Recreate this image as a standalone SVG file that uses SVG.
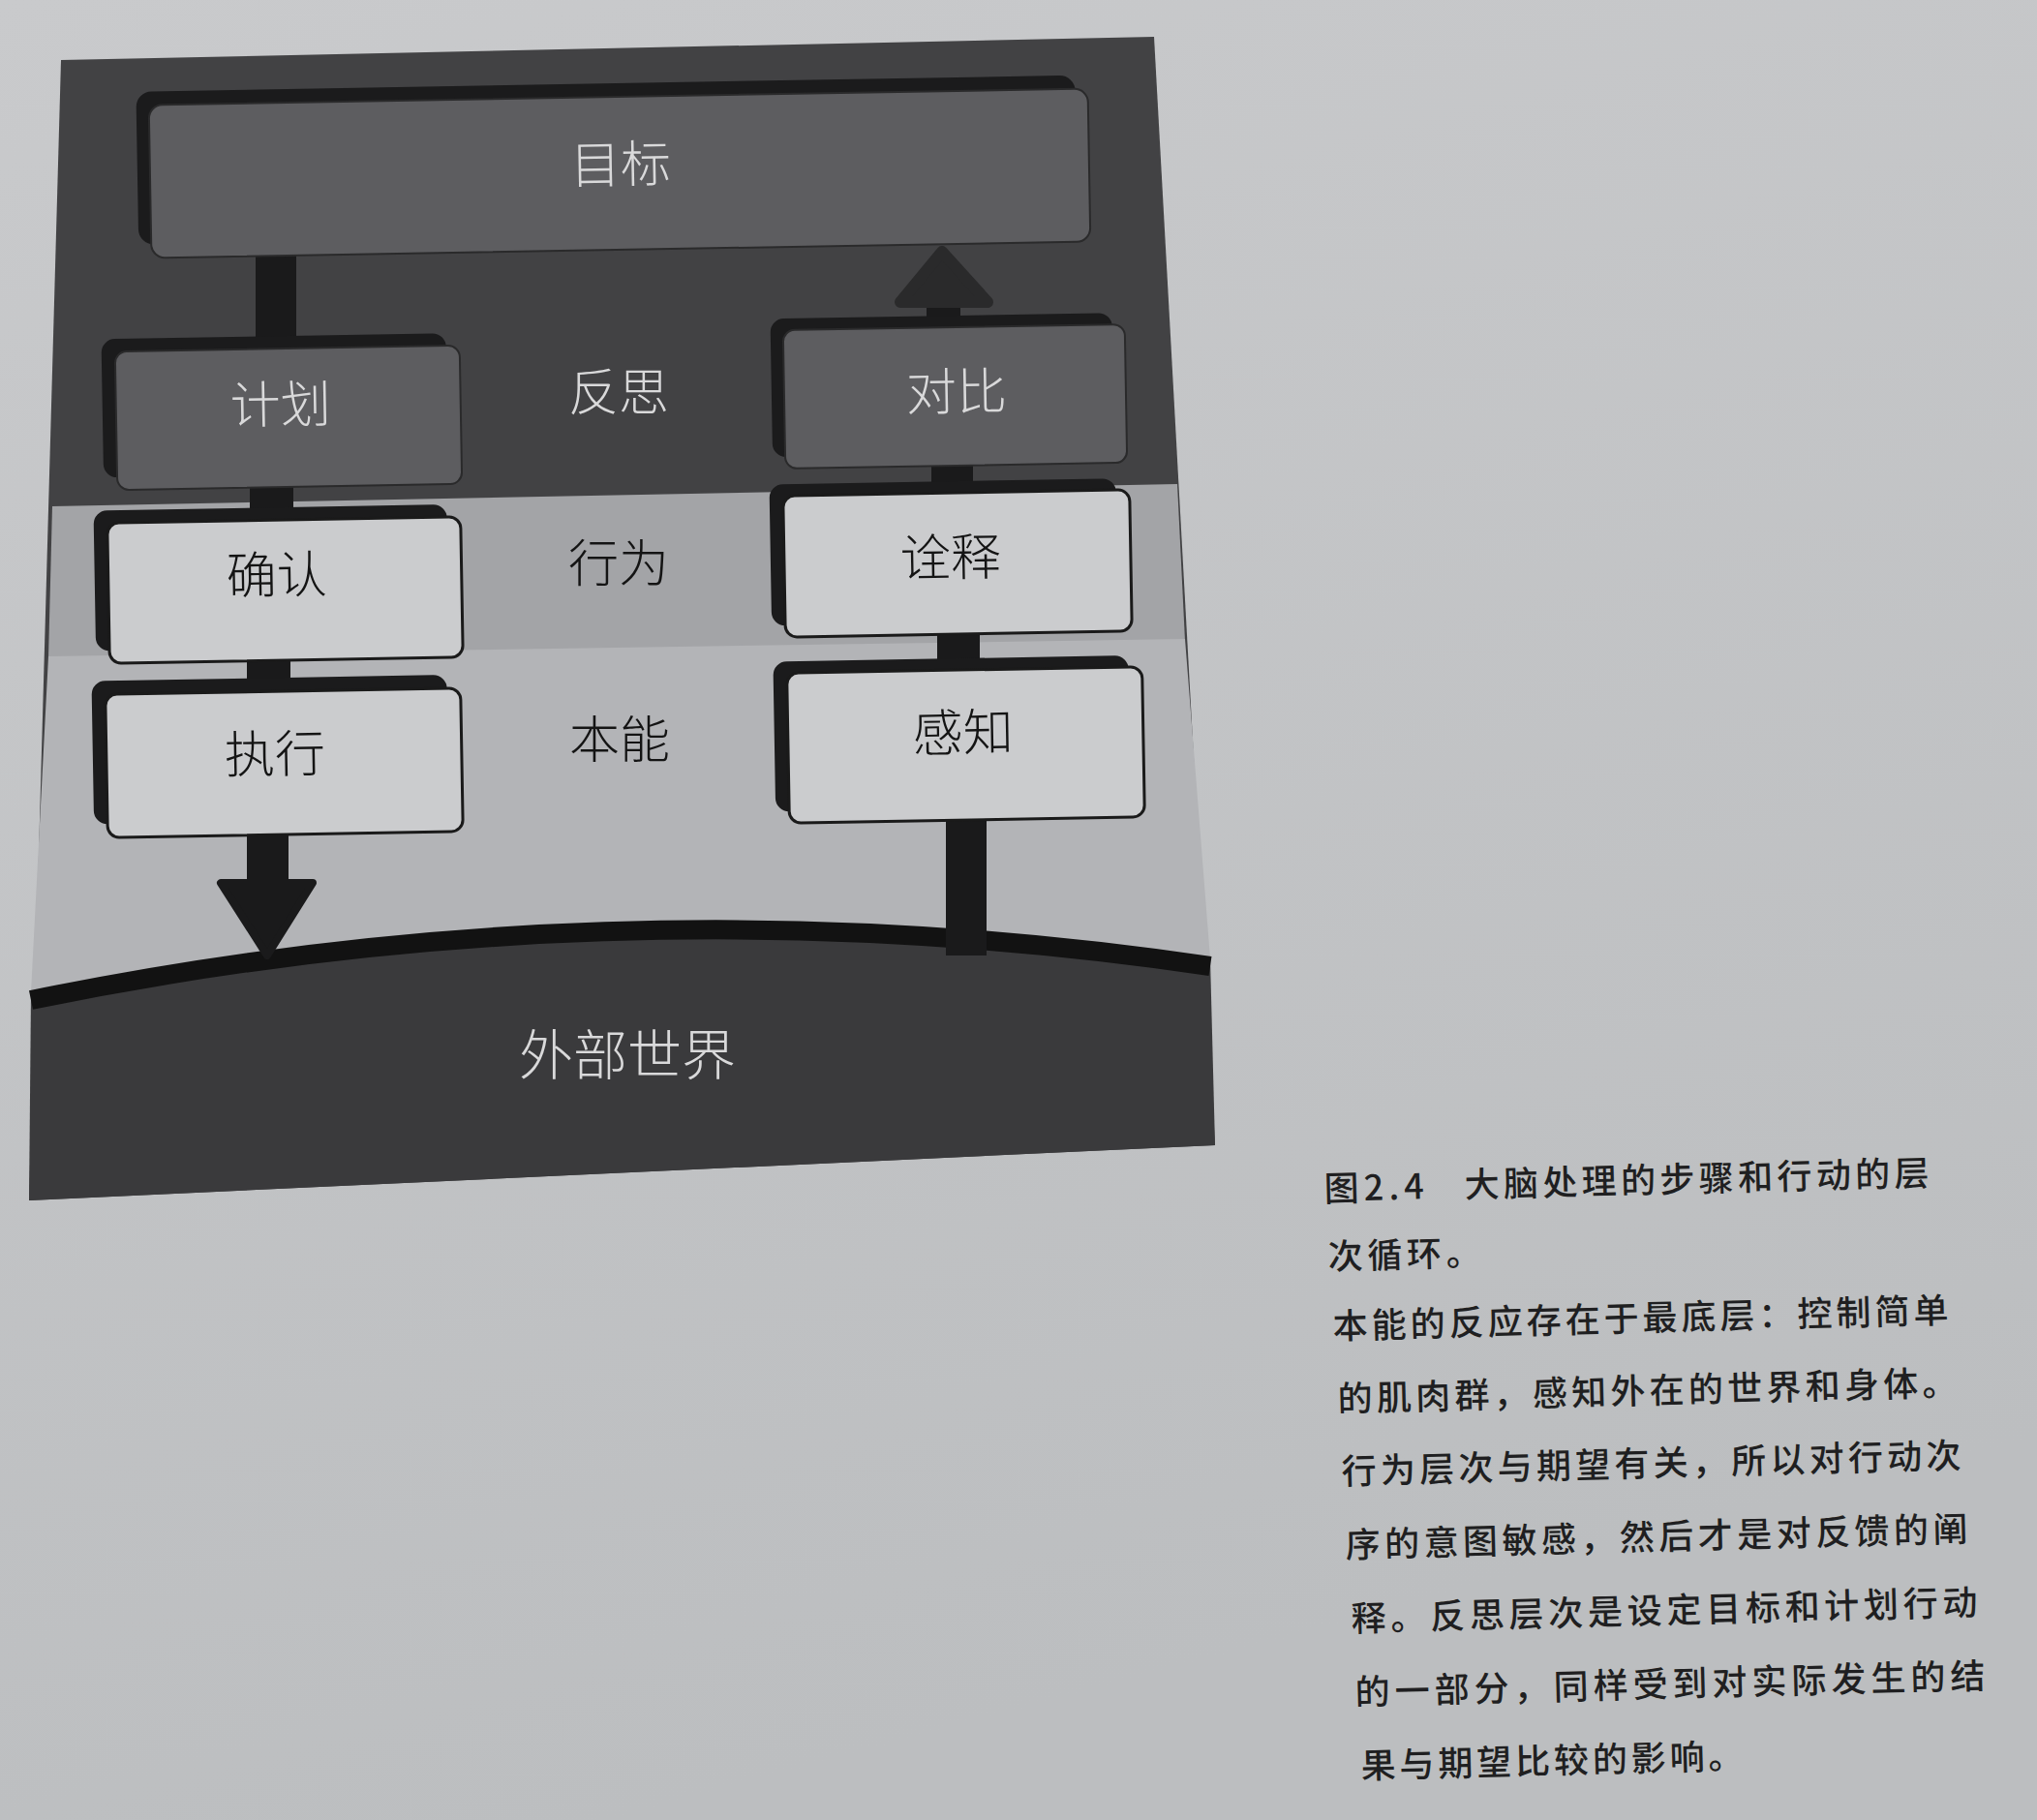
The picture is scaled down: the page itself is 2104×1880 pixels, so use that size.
<svg xmlns="http://www.w3.org/2000/svg" width="2104" height="1880" viewBox="0 0 2104 1880">
<defs>
<linearGradient id="page" x1="0" y1="0" x2="0.3" y2="1">
<stop offset="0" stop-color="#c9cacc"/>
<stop offset="1" stop-color="#bcbec0"/>
</linearGradient>
<style>
.lbl{font-family:"Noto Sans CJK SC","Noto Sans",sans-serif;font-size:52px;text-anchor:middle;dominant-baseline:central;font-weight:300}
.lt{fill:#d9d9da}
.dk{fill:#141414}
.shadow{fill:#1b1b1c}
.dbox{fill:#5d5d60;stroke:#2a2a2b;stroke-width:2}
.lbox{fill:#cbccce;stroke:#1a1a1a;stroke-width:3}
.bar{fill:#1a1a1b}
.cap{font-family:"Noto Sans CJK SC","Noto Sans",sans-serif;font-size:36px;font-weight:500;fill:#1f1f21}
</style>
</defs>
<rect width="2104" height="1880" fill="url(#page)"/>
<g id="panel">
<polygon points="63,62 1192,38 1255,1183 30,1240" fill="#424244"/>
<polygon points="54,523 1216,500 1224,662 50,680" fill="#a3a4a7"/>
<path d="M50,678 L1224,660 L1250,990 Q640,900 32,1025 Z" fill="#b3b4b7"/>
<path d="M32,1025 Q640,900 1250,990 L1255,1183 L30,1240 Z" fill="#3a3a3c"/>
<path d="M32,1033 Q640,908 1250,998" fill="none" stroke="#121212" stroke-width="20"/>
</g>
<g id="connectors">
<rect class="bar" x="264" y="258" width="42" height="106"/>
<rect class="bar" x="258" y="500" width="45" height="40"/>
<rect class="bar" x="255" y="680" width="45" height="38"/>
<rect class="bar" x="255" y="858" width="43" height="58"/>
<polygon points="228,912 323,912 276,987" fill="#1a1a1b" stroke="#1a1a1b" stroke-width="8" stroke-linejoin="round"/>
<rect class="bar" x="957" y="300" width="35" height="32"/>
<polygon points="973,260 1020,312 930,312" fill="#2a2a2b" stroke="#2a2a2b" stroke-width="12" stroke-linejoin="round"/>
<rect class="bar" x="962" y="478" width="43" height="36"/>
<rect class="bar" x="968" y="652" width="44" height="44"/>
<rect class="bar" x="977" y="842" width="42" height="145"/>
</g>
<g id="goal" transform="rotate(-1 640 179)">
<rect class="shadow" x="142" y="86" width="970" height="158" rx="16"/>
<rect class="dbox" x="155" y="100" width="970" height="158" rx="14"/>
<text class="lbl lt" x="641" y="166">目标</text>
</g>
<g id="plan" transform="rotate(-1 298 432)">
<rect class="shadow" x="106" y="347" width="356" height="143" rx="14"/>
<rect class="dbox" x="120" y="360" width="356" height="143" rx="12"/>
<text class="lbl lt" x="290" y="414">计划</text>
</g>
<g id="reflective-label"><text class="lbl lt" x="639" y="401">反思</text></g>
<g id="compare" transform="rotate(-1 986 410)">
<rect class="shadow" x="797" y="326" width="353" height="143" rx="14"/>
<rect class="dbox" x="810" y="338" width="353" height="143" rx="12"/>
<text class="lbl lt" x="988" y="401">对比</text>
</g>
<g id="specify" transform="rotate(-1 295 610)">
<rect class="shadow" x="98" y="524" width="365" height="145" rx="14"/>
<rect class="lbox" x="112" y="537" width="365" height="145" rx="12"/>
<text class="lbl dk" x="286" y="590">确认</text>
</g>
<g id="behavioral-label"><text class="lbl dk" x="639" y="578">行为</text></g>
<g id="interpret" transform="rotate(-1 989 582)">
<rect class="shadow" x="796" y="497" width="358" height="146" rx="14"/>
<rect class="lbox" x="810" y="509" width="358" height="146" rx="12"/>
<text class="lbl dk" x="982" y="572">诠释</text>
</g>
<g id="perform" transform="rotate(-1 293 788)">
<rect class="shadow" x="96" y="700" width="367" height="148" rx="14"/>
<rect class="lbox" x="110" y="714" width="367" height="148" rx="12"/>
<text class="lbl dk" x="284" y="775">执行</text>
</g>
<g id="visceral-label"><text class="lbl dk" x="640" y="760">本能</text></g>
<g id="perceive" transform="rotate(-1 997 770)">
<rect class="shadow" x="800" y="680" width="367" height="155" rx="14"/>
<rect class="lbox" x="814" y="692" width="367" height="155" rx="12"/>
<text class="lbl dk" x="995" y="753">感知</text>
</g>
<g id="world"><text class="lbl lt" x="648" y="1085" style="font-size:56px">外部世界</text></g>
<g id="caption">
<text class="cap" x="1368" y="1241" textLength="103" lengthAdjust="spacing" transform="rotate(-1.5 1368 1241)">图2.4</text>
<text class="cap" x="1513" y="1237" textLength="480" lengthAdjust="spacing" transform="rotate(-1.5 1513 1237)">大脑处理的步骤和行动的层</text>
<text class="cap" x="1372" y="1311" textLength="158" lengthAdjust="spacing" transform="rotate(-1.5 1372 1311)">次循环。</text>
<text class="cap" x="1377" y="1383" textLength="636" lengthAdjust="spacing" transform="rotate(-1.5 1377 1383)">本能的反应存在于最底层：控制简单</text>
<text class="cap" x="1382" y="1458" textLength="640" lengthAdjust="spacing" transform="rotate(-1.5 1382 1458)">的肌肉群，感知外在的世界和身体。</text>
<text class="cap" x="1386" y="1533" textLength="640" lengthAdjust="spacing" transform="rotate(-1.5 1386 1533)">行为层次与期望有关，所以对行动次</text>
<text class="cap" x="1390" y="1609" textLength="643" lengthAdjust="spacing" transform="rotate(-1.5 1390 1609)">序的意图敏感，然后才是对反馈的阐</text>
<text class="cap" x="1396" y="1685" textLength="647" lengthAdjust="spacing" transform="rotate(-1.5 1396 1685)">释。反思层次是设定目标和计划行动</text>
<text class="cap" x="1400" y="1761" textLength="651" lengthAdjust="spacing" transform="rotate(-1.5 1400 1761)">的一部分，同样受到对实际发生的结</text>
<text class="cap" x="1406" y="1837" textLength="395" lengthAdjust="spacing" transform="rotate(-1.5 1406 1837)">果与期望比较的影响。</text>
</g>
</svg>
